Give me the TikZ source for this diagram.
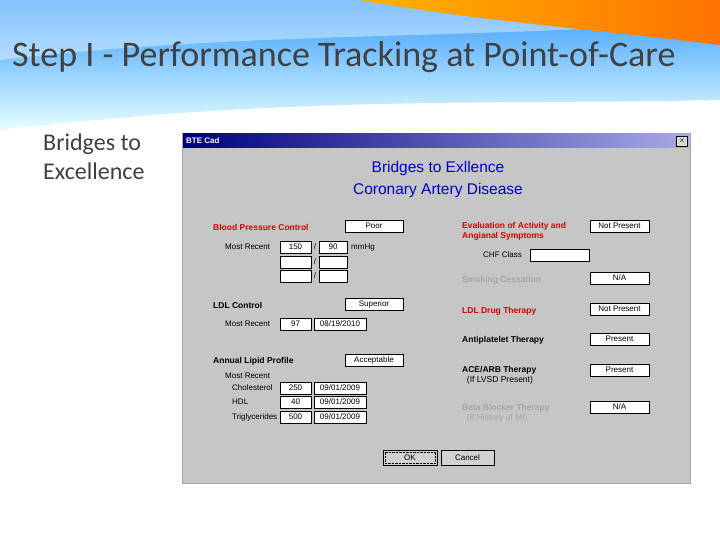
\documentclass[tikz,border=0pt]{standalone}
\usepackage{fontspec}
\setmainfont{Carlito}
\newfontfamily\ui{Liberation Sans}
\begin{document}
\begin{tikzpicture}[x=1pt,y=-1pt,
  lbl/.style={anchor=west,inner sep=0pt,font=\ui\bfseries\fontsize{8.5}{10}\selectfont},
  fld/.style={draw=black,fill=white,inner sep=0pt,font=\ui\fontsize{8}{9}\selectfont},
  btn/.style={draw=black,fill=gray!35,inner sep=0pt,font=\ui\fontsize{8}{9}\selectfont}]
\useasboundingbox (0,0) rectangle (720,540);
\fill[white] (0,0) rectangle (720,540);
% header swoosh
\shade[top color=cyan!50!blue!80,bottom color=cyan!10] (0,0) -- (720,0) -- (720,100) .. controls (500,105) and (300,95) .. (0,130) -- cycle;
\fill[white,opacity=0.4] (0,0) -- (720,0) -- (720,20) .. controls (500,40) and (250,30) .. (0,60) -- cycle;
\shade[left color=orange!60!yellow,right color=orange!90!red] (360,0) -- (720,0) -- (720,45) .. controls (600,30) and (470,20) .. (360,0) -- cycle;
\node[anchor=west,inner sep=0pt,text=black!75,font=\fontsize{36}{40}\selectfont] (title) at (12,57) {Step I - Performance Tracking at Point-of-Care};
\node[anchor=north west,align=left,inner sep=0pt,text=black!75,font=\fontsize{24}{29}\selectfont] (side) at (43,134) {Bridges to\\Excellence};
% dialog
\fill[gray!45] (182,133) rectangle (690,483);
\draw[gray!70] (182,133) rectangle (690,483);
\shade[left color=blue!50!black,right color=blue!30!white!80!gray] (183,134) rectangle (689,148);
\node[anchor=west,inner sep=0pt,text=white,font=\ui\bfseries\fontsize{8}{9}\selectfont] (dt) at (186,141) {BTE Cad};
\node[btn,minimum width=11pt,minimum height=10pt,fill=gray!30] (close) at (682,141) {\textsf{x}};
\node[inner sep=0pt,text=blue!80!black,font=\ui\fontsize{15.5}{18}\selectfont] (h1) at (438,168) {Bridges to Exllence};
\node[inner sep=0pt,text=blue!80!black,font=\ui\fontsize{15.5}{18}\selectfont] (h2) at (438,190) {Coronary Artery Disease};
% left column
\node[lbl,text=red!85!black] (bp) at (213,227) {Blood Pressure Control};
\node[fld,minimum width=58pt,minimum height=12pt] (bpf) at (374,226) {Poor};
\node[lbl,font=\ui\fontsize{8}{9}\selectfont] (mr1) at (225,247) {Most Recent};
\foreach \y/\a/\b [count=\i] in {247/150/90,262/{}/{},276/{}/{}}{
  \node[fld,minimum width=31pt,minimum height=12pt] (s\i) at (295.5,\y) {\a};
  \node[inner sep=0pt,font=\ui\fontsize{8}{9}\selectfont] (sl\i) at (315,\y) {/};
  \node[fld,minimum width=28pt,minimum height=12pt] (d\i) at (333,\y) {\b};}
\node[lbl,font=\ui\fontsize{8}{9}\selectfont] (mm) at (351,248) {mmHg};
\node[lbl] (ldl) at (213,305) {LDL Control};
\node[fld,minimum width=58pt,minimum height=12pt] (ldlf) at (374,304) {Superior};
\node[lbl,font=\ui\fontsize{8}{9}\selectfont] (mr2) at (225,324) {Most Recent};
\node[fld,minimum width=31pt,minimum height=12pt] (l1) at (295.5,324) {97};
\node[fld,minimum width=52pt,minimum height=12pt] (l2) at (340,324) {08/19/2010};
\node[lbl] (alp) at (213,361) {Annual Lipid Profile};
\node[fld,minimum width=58pt,minimum height=12pt] (alpf) at (374,360) {Acceptable};
\node[lbl,font=\ui\fontsize{8}{9}\selectfont] (mr3) at (225,376) {Most Recent};
\foreach \y/\n/\v [count=\i] in {388/Cholesterol/250,402/HDL/40,417/Triglycerides/500}{
  \node[lbl,font=\ui\fontsize{8}{9}\selectfont] (ln\i) at (232,\y) {\n};
  \node[fld,minimum width=31pt,minimum height=12pt] (lv\i) at (295.5,\y) {\v};
  \node[fld,minimum width=52pt,minimum height=12pt] (ld\i) at (340,\y) {09/01/2009};}
% right column
\node[lbl,text=red!85!black,align=left,anchor=north west] (ev) at (462,222) {Evaluation of Activity and\\Angianal Symptoms};
\node[fld,minimum width=59pt,minimum height=12pt] (evf) at (619.5,226) {Not Present};
\node[lbl,font=\ui\fontsize{8}{9}\selectfont] (chf) at (483,255) {CHF Class};
\node[fld,minimum width=59pt,minimum height=12pt] (chff) at (559.5,255) {};
\node[lbl,text=gray!70] (sm) at (462,280) {Smoking Cessation};
\node[fld,minimum width=59pt,minimum height=12pt] (smf) at (619.5,278) {N/A};
\node[lbl,text=red!85!black] (ldd) at (462,311) {LDL Drug Therapy};
\node[fld,minimum width=59pt,minimum height=12pt] (lddf) at (619.5,309) {Not Present};
\node[lbl] (ap) at (462,340) {Antiplatelet Therapy};
\node[fld,minimum width=59pt,minimum height=12pt] (apf) at (619.5,339) {Present};
\node[lbl,align=left,anchor=north west] (ace) at (462,366) {ACE/ARB Therapy\\\mdseries\ \ (If LVSD Present)};
\node[fld,minimum width=59pt,minimum height=12pt] (acef) at (619.5,370) {Present};
\node[lbl,text=gray!70,align=left,anchor=north west] (bb) at (462,404) {Beta Blocker Therapy\\\mdseries\ \ (If History of MI)};
\node[fld,minimum width=59pt,minimum height=12pt] (bbf) at (619.5,407) {N/A};
% buttons
\node[btn,minimum width=54pt,minimum height=15pt] (ok) at (410,457.5) {OK};
\draw[densely dotted] ([shift={(2,-2)}]ok.south west) rectangle ([shift={(-2,2)}]ok.north east);
\node[btn,minimum width=53pt,minimum height=15pt] (cancel) at (467.5,457.5) {Cancel};
\end{tikzpicture}
\end{document}
